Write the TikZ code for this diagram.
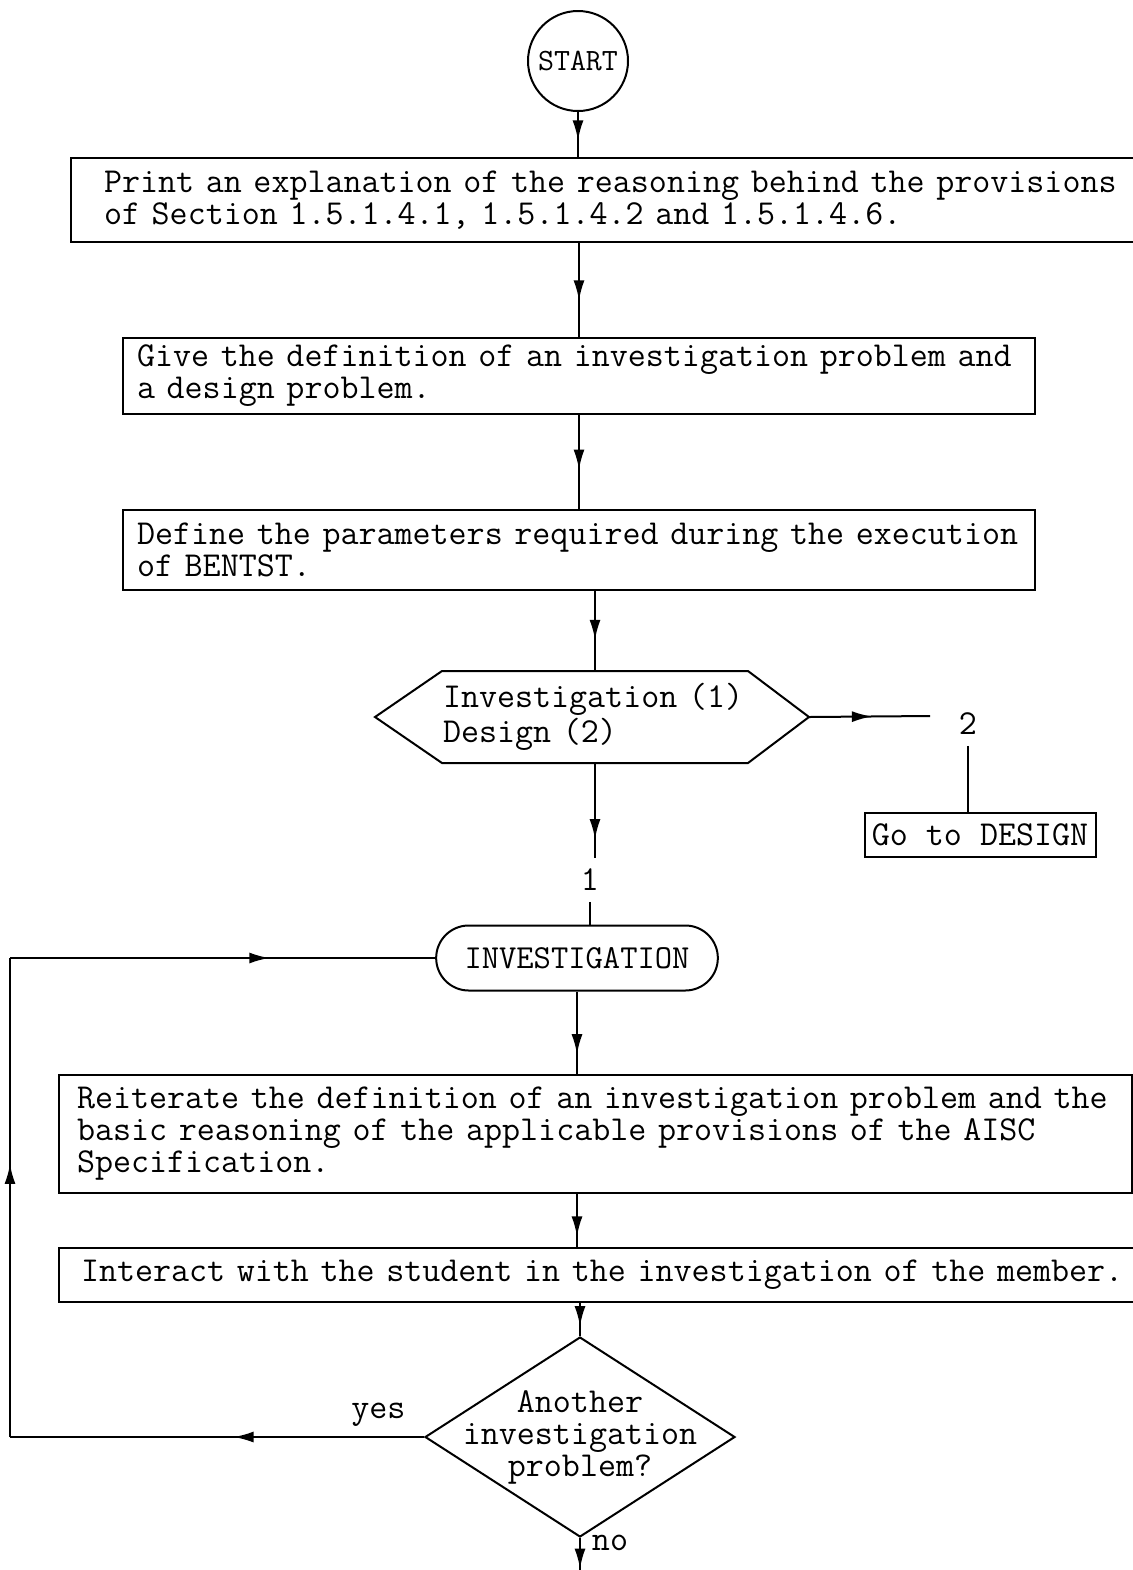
\documentclass[tikz,border=0pt]{standalone}
\usepackage{fontspec}
\setmonofont{Latin Modern Mono}
\usetikzlibrary{arrows.meta,shapes.geometric,shapes.misc,decorations.markings}
\newcommand\typed{\fontsize{17.5}{16}\selectfont\ttfamily}
\tikzset{
  flow/.style={postaction={decorate},
    decoration={markings,
      mark=at position #1 with {\arrow{Latex[length=10pt,width=5.5pt]}}}},
  flow/.default=0.5,
  stepbox/.style={draw,rectangle,anchor=west,align=left,inner ysep=0pt,font=\typed},
  terminal/.style={draw,circle,minimum size=50pt,inner sep=0pt,
    font=\fontsize{15.5}{16}\selectfont\ttfamily},
  entry/.style={draw,rounded rectangle,minimum width=147.5pt,minimum height=32.5pt,
    font=\fontsize{16.8}{16}\selectfont\ttfamily},
  decision/.style={draw,diamond,minimum width=155pt,minimum height=97.5pt,inner sep=-16pt,
    align=center,font=\typed},
  tag/.style={inner sep=1pt,font=\typed}
}

\begin{document}
\begin{tikzpicture}[x=0.5pt,y=-0.5pt,line width=1pt]
    \useasboundingbox (0,0) rectangle (1132,1570);

    % — Start and the three opening steps
    \node[terminal] (start) at (578,61) {START};
    \node[stepbox,inner xsep=16.5pt,text width=512pt,minimum height=42pt] (print) at (70,200)
      {Print an explanation of the reasoning behind the provisions\\
       of Section 1.5.1.4.1, 1.5.1.4.2 and 1.5.1.4.6.};
    \node[stepbox,inner xsep=7pt,text width=442pt,minimum height=38pt] (give) at (122,376)
      {Give the definition of an investigation problem and\\
       a design problem.};
    \node[stepbox,inner xsep=7pt,text width=442pt,minimum height=40pt] (define) at (122,550)
      {Define the parameters required during the execution\\
       of BENTST.};

    % — Choice between the two kinds of problem
    \node[align=left,text width=152pt,minimum height=45pt,inner sep=0pt,
      font=\typed] (choice) at (595,717) {Investigation (1)\\Design (2)};
    \coordinate (choiceW) at ([xshift=-33.5pt]choice.west);
    \coordinate (choiceE) at ([xshift=30.5pt]choice.east);
    \draw (choice.north west) -- (choice.north east) -- (choiceE) -- (choice.south east)
      -- (choice.south west) -- (choiceW) -- cycle;
    \node[tag,inner sep=5pt] (two) at (968,724) {2};
    \node[draw,minimum width=115.5pt,minimum height=22pt,font=\typed] (godesign) at (980,835) {Go to DESIGN};
    \node[tag,inner sep=5pt] (one) at (590,880) {1};

    % — Investigation loop
    \node[entry] (invest) at (577,958) {INVESTIGATION};
    \node[stepbox,inner xsep=9pt,text width=518.5pt,minimum height=59pt] (reit) at (58,1134)
      {Reiterate the definition of an investigation problem and the\\
       basic reasoning of the applicable provisions of the AISC\\
       Specification.};
    \node[stepbox,inner xsep=11pt,text width=540pt,minimum height=27pt] (interact) at (58,1275)
      {Interact with the student in the investigation of the member.};
    \node[decision] (more) at (580,1437) {Another\\investigation\\problem?};

    \coordinate (twoIn) at (930,716);
    \coordinate (loopB) at (10,1437);
    \coordinate (loopT) at (10,958);
    \coordinate (exit) at (580,1572);

    % — Connectors
    \draw[flow=0.63] (start.south) -- (start.south |- print.north);
    \draw[flow=0.61] (give.north |- print.south) -- (give.north);
    \draw[flow=0.58] (give.south) -- (define.north);
    \draw[flow=0.61] (choice.north |- define.south) -- (choice.north);
    \draw[flow=0.52] (choiceE) -- (twoIn);
    \draw (two.south) -- (two.south |- godesign.north);
    \draw[flow=0.8] (choice.south) -- (choice.south |- one.north);
    \draw (one.south) -- (one.south |- invest.north);
    \draw[flow=0.76] (invest.south) -- (invest.south |- reit.north);
    \draw[flow=0.8] (invest.south |- reit.south) -- (invest.south |- interact.north);
    \draw[flow=0.7] (more.north |- interact.south) -- (more.north);
    \draw[flow=0.46] (more.west) -- node[tag,above=4pt,pos=0.11] (yes) {yes} (loopB);
    \draw[flow=0.57] (loopB) -- (loopT);
    \draw[flow=0.61] (loopT) -- (invest.west);
    \draw[flow=0.9] (more.south) -- (exit);
    \node[tag] (no) at (610,1543) {no};
\end{tikzpicture}
\end{document}
